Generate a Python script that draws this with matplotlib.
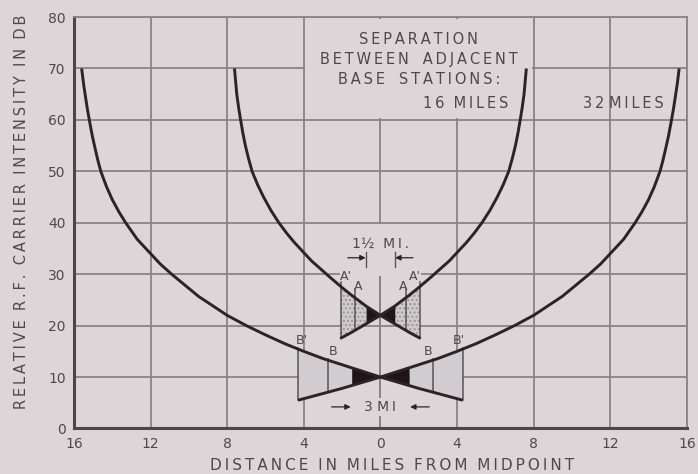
import numpy as np
import matplotlib.pyplot as plt
from matplotlib.patches import Rectangle

# signal from the left-hand station (the right-hand one is its mirror image)
# 32 mile separation
far_x = [-15.6, -15.5, -15.4, -15.3, -15.2, -15.05, -14.9, -14.75, -14.6, -14.3, -14.0,
         -13.65, -13.3, -12.7, -12.0, -11.5, -10.9, -9.5, -8.0, -7.0, -6.0, -5.0, -4.0,
         -3.0, -2.0, -1.0, 0.0, 1.0, 2.0, 3.0, 4.3]
far_db = [70, 67.0, 64.5, 62.1, 60, 57.0, 54.5, 52.1, 50, 47.0, 44.5,
          42.1, 40, 36.8, 34, 32.0, 30, 25.7, 22, 20.0, 18.2, 16.5, 15,
          13.6, 12.4, 11.2, 10, 8.9, 7.8, 6.8, 5.5]
# 16 mile separation
near_x = [-7.62, -7.5, -7.4, -7.3, -7.18, -7.05, -6.9, -6.7, -6.4, -6.1, -5.7, -5.3,
          -4.9, -4.5, -3.6, -2.6, -2.0, -1.5, -0.75, 0.0, 0.5, 1.0, 1.55, 2.1]
near_db = [70, 65, 62.3, 60, 57.4, 55, 52.7, 50, 47.3, 45, 42.3, 40,
           38.0, 36.2, 32.6, 29.3, 27.4, 25.9, 23.8, 22, 20.9, 19.8, 18.6, 17.5]

# zone edges (miles from midpoint)
a_black, a_line, a_prime = 0.75, 1.34, 2.07
b_black, b_line, b_prime = 1.5, 2.76, 4.29

xticks = [-16, -12, -8, -4, 0, 4, 8, 12, 16]
yticks = [0, 10, 20, 30, 40, 50, 60, 70, 80]

bg = '#ddd6d8'
grid_c = '#8a8386'
ink = '#2e2226'
txt = '#4f484b'

plt.rcParams['font.family'] = ['DejaVu Sans']

fig = plt.figure(figsize=(6.98, 4.74), dpi=100, facecolor=bg)
ax = fig.add_axes([0.106, 0.096, 0.878, 0.868], facecolor=bg)
ax.set_xlim(-16, 16)
ax.set_ylim(0, 80)
ax.set_axisbelow(True)
ax.set_xticks(xticks)
ax.set_xticklabels([str(abs(t)) for t in xticks])
ax.set_yticks(yticks)
ax.tick_params(length=0, labelsize=10, labelcolor=txt, pad=6)
ax.grid(True, color=grid_c, lw=1.3)
for s in ['left', 'bottom']:
    ax.spines[s].set_color('#4d4649')
    ax.spines[s].set_linewidth(2.2)
for s in ['top', 'right']:
    ax.spines[s].set_color(grid_c)
    ax.spines[s].set_linewidth(1.3)


def spaced(s):
    return '\u2009'.join(s)


def wedge(xl, yl, x0, x1, **kw):
    # area between the two crossing curves between |x|=x0 and |x|=x1
    xs = np.linspace(x0, x1, 30)
    xr = np.array(xl)
    yr = np.array(yl)
    for sgn in (-1, 1):
        xx = sgn * xs
        up = np.interp(-np.abs(xx), xr, yr)
        lo = np.interp(np.abs(xx), xr, yr)
        ax.fill_between(xx, lo, up, lw=0, **kw)


# shaded zones
wedge(far_x, far_db, b_black, b_prime, color='#d0cccf', zorder=1)
wedge(far_x, far_db, 0, b_black, color='#1e1518', zorder=1.2)
wedge(near_x, near_db, a_black, a_prime, color='#cfcbcd', hatch='....', edgecolor='#9a9497', zorder=1)
wedge(near_x, near_db, 0, a_black, color='#1e1518', zorder=1.2)

# center line shows through the zones
ax.plot([0, 0], [0, 29.6], color=grid_c, lw=1.3, zorder=1.4)

# zone boundary lines
for sgn in (-1, 1):
    for x, top in [(b_prime, 15.6), (b_line, 13.6)]:
        lo = np.interp(x, far_x, far_db)
        ax.plot([sgn * x, sgn * x], [lo, top], color='#5a5356', lw=1.1, zorder=2)
    for x, top in [(a_prime, 28.4), (a_line, 27.2)]:
        lo = np.interp(x, near_x, near_db)
        ax.plot([sgn * x, sgn * x], [lo, top], color='#5a5356', lw=1.1, zorder=2)

# boxes behind the captions
ax.add_patch(Rectangle((-3.93, 60.3), 11.86, 19.4, color=bg, lw=0, zorder=1.5))
ax.add_patch(Rectangle((-2.1, 29.6), 4.2, 10.1, color=bg, lw=0, zorder=1.5))

# curves
for xs, ys in [(far_x, far_db), (near_x, near_db)]:
    ax.plot(xs, ys, color=ink, lw=2.1, zorder=3, solid_capstyle='butt')
    ax.plot([-x for x in xs], ys, color=ink, lw=2.1, zorder=3, solid_capstyle='butt')

# captions
ax.text(2.0, 71.8, spaced('SEPARATION') + '\n' + spaced('BETWEEN') + '   ' + spaced('ADJACENT')
        + '\n' + spaced('BASE') + '   ' + spaced('STATIONS:'),
        ha='center', va='center', fontsize=10.5, color=txt, linespacing=1.4, zorder=4)
ax.text(6.7, 63.2, spaced('16') + '  ' + spaced('MILES'), ha='right', va='center',
        fontsize=10.5, color=txt, zorder=4)
ax.text(14.8, 63.2, spaced('32') + ' ' + spaced('MILES'), ha='right', va='center',
        fontsize=10.5, color=txt, zorder=4)

ax.text(0, 35.9, '1½  ' + spaced('MI.'), ha='center', va='center', fontsize=10,
        color=txt, zorder=4)
ax.text(0, 4.2, '3 ' + spaced('MI'), ha='center', va='center', fontsize=10, color=txt,
        zorder=4, bbox=dict(facecolor=bg, edgecolor='none', pad=1.5))

arr = dict(arrowstyle='-|>', color='#2a2226', lw=0.9, mutation_scale=8, shrinkA=0, shrinkB=0)
for sgn in (-1, 1):
    ax.annotate('', xy=(sgn * 0.77, 33.2), xytext=(sgn * 1.7, 33.2), arrowprops=arr, zorder=4)
    ax.plot([sgn * 0.75, sgn * 0.75], [31.4, 34.4], color='#5a5356', lw=1.0, zorder=4)
    ax.annotate('', xy=(sgn * 1.55, 4.2), xytext=(sgn * 2.55, 4.2), arrowprops=arr, zorder=4)

for sgn in (-1, 1):
    ax.text(sgn * 1.8, 29.6, "A'", ha='center', va='center', fontsize=9, color=txt, zorder=4)
    ax.text(sgn * 1.17, 27.6, 'A', ha='center', va='center', fontsize=9, color=txt, zorder=4)
    ax.text(sgn * 4.08, 17.1, "B'", ha='center', va='center', fontsize=9, color=txt, zorder=4)
    ax.text(sgn * 2.48, 14.9, 'B', ha='center', va='center', fontsize=9, color=txt, zorder=4)

fig.text(22 / 698, 1 - 212 / 474,
         '  '.join(spaced(w) for w in 'RELATIVE R.F. CARRIER INTENSITY IN DB'.split()),
         rotation=90, ha='center', va='center', fontsize=10.5, color=txt)
fig.text(392 / 698, 1 - 465 / 474,
         '  '.join(spaced(w) for w in 'DISTANCE IN MILES FROM MIDPOINT'.split()),
         ha='center', va='center', fontsize=11, color=txt)

fig.savefig('out.png', dpi=100, facecolor=bg)
